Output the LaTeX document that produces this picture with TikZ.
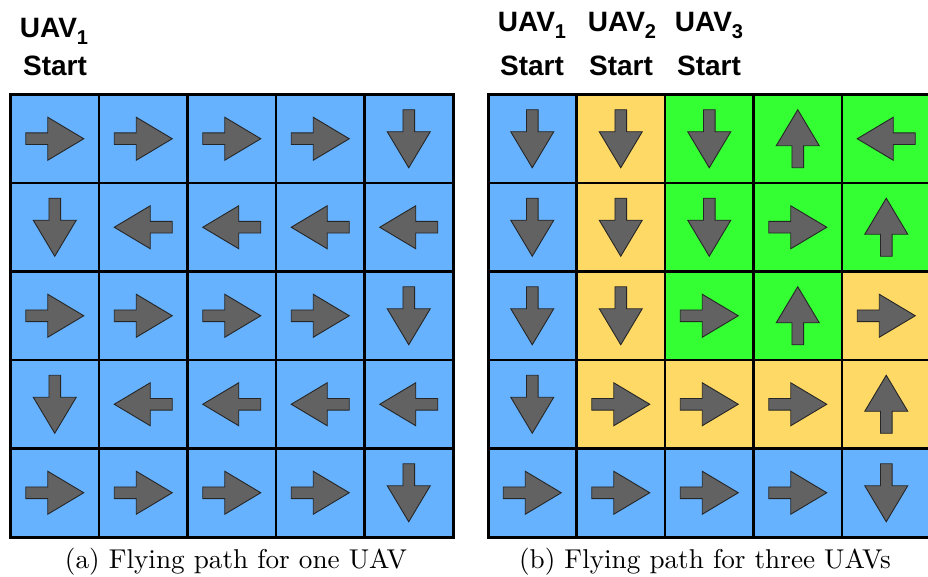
\documentclass[tikz,border=0pt]{standalone}
\usepackage{fontspec}
\usepackage{graphicx}
\newfontfamily\labfont{Liberation Sans}
\definecolor{cB}{HTML}{66B2FF}
\definecolor{cY}{HTML}{FFD966}
\definecolor{cG}{HTML}{33FF33}
\definecolor{arrfill}{HTML}{626262}
\newcommand\usub[1]{\raisebox{-0.24em}{\fontsize{20}{20}\selectfont #1}}
\tikzset{
  arrowshape/.style={fill=arrfill, draw=black!85, line width=0.9pt, line join=miter},
  gridline/.style={line width=2.2pt, draw=black},
  outerline/.style={line width=3pt, draw=black},
  lab/.style={font={\labfont\bfseries\fontsize{28}{30}\selectfont}, anchor=base, inner sep=0pt},
  capt/.style={anchor=base, inner sep=0pt},
  cellarrow/.pic={\path[arrowshape] (-29,-5.8) -- (-7,-5.8) -- (-7,-21.5) -- (29,0) -- (-7,21.5) -- (-7,5.8) -- (-29,5.8) -- cycle;}
}
\begin{document}
\begin{tikzpicture}[x=1pt,y=-1pt]
\useasboundingbox (0,0) rectangle (928,577);
\clip (0,0) rectangle (928,577);
\fill[white] (0,0) rectangle (928,577);
\def\s{88.5}
% ---------- left grid ----------
\fill[cB] (10.5,94.5) rectangle ++(442.5,442.5);
\foreach \row [count=\r from 0] in {{0,0,0,0,-90},{-90,180,180,180,180},{0,0,0,0,-90},{-90,180,180,180,180},{0,0,0,0,-90}} {
  \foreach \a [count=\c from 0] in \row {
    \pic[rotate=\a] at ({10.5+\s*\c+\s/2},{94.5+\s*\r+\s/2}) {cellarrow};
  }
}
\foreach \k in {1,...,4} {
  \draw[gridline] ({10.5+\k*\s},94.5) -- ++(0,442.5);
  \draw[gridline] (10.5,{94.5+\k*\s}) -- ++(442.5,0);
}
\draw[outerline] (10.5,94.5) rectangle ++(442.5,442.5);
% ---------- right grid ----------
\foreach \row [count=\r from 0] in {{B/-90,Y/-90,G/-90,G/90,G/180},{B/-90,Y/-90,G/-90,G/0,G/90},{B/-90,Y/-90,G/0,G/90,Y/0},{B/-90,Y/0,Y/0,Y/0,Y/90},{B/0,B/0,B/0,B/0,B/-90}} {
  \foreach \col/\a [count=\c from 0] in \row {
    \fill[c\col] ({488+\s*\c},{94.5+\s*\r}) rectangle ++(\s,\s);
    \pic[rotate=\a] at ({488+\s*\c+\s/2},{94.5+\s*\r+\s/2}) {cellarrow};
  }
}
\foreach \k in {1,...,4} {
  \draw[gridline] ({488+\k*\s},94.5) -- ++(0,442.5);
  \draw[gridline] (488,{94.5+\k*\s}) -- ++(442.5,0);
}
\draw[outerline] (488,94.5) rectangle ++(442.5,442.5);
% ---------- labels ----------
\node[lab] (la1) at (54,38) {UAV\usub{1}};
\node[lab] (sa1) at (55,76) {Start};
\node[lab] (lb1) at (532,32) {UAV\usub{1}};
\node[lab] (sb1) at (532,76) {Start};
\node[lab] (lb2) at (622,32) {UAV\usub{2}};
\node[lab] (sb2) at (621,76) {Start};
\node[lab] (lb3) at (709,32) {UAV\usub{3}};
\node[lab] (sb3) at (709,76) {Start};
% ---------- captions ----------
\node[capt] (capa) at (236,568) {\scalebox{2.72}{(a) Flying path for one UAV}};
\node[capt] (capb) at (705,568) {\scalebox{2.72}{(b) Flying path for three UAVs}};
\end{tikzpicture}
\end{document}
